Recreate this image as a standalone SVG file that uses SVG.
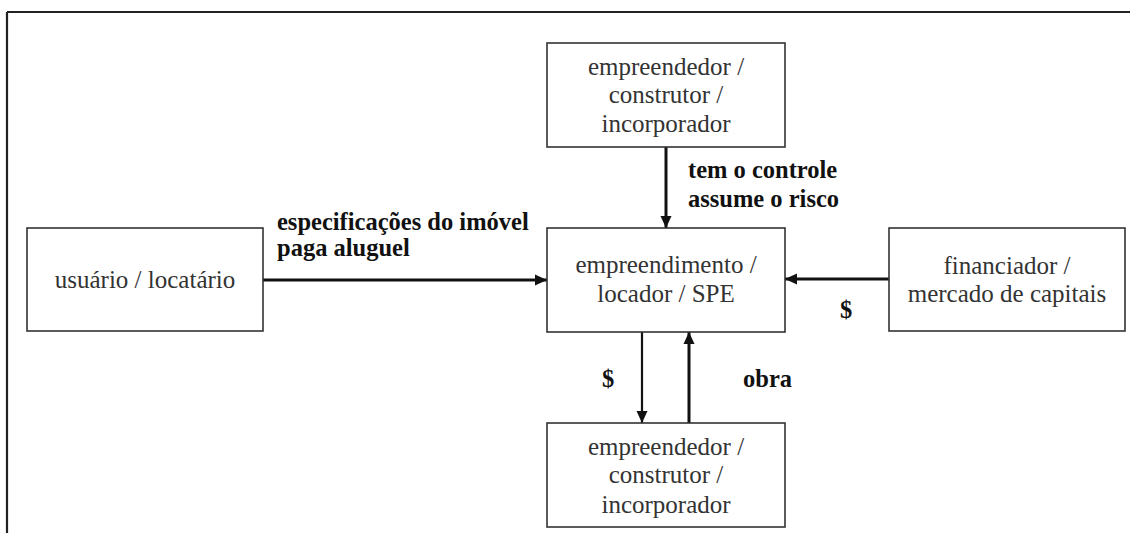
<svg xmlns="http://www.w3.org/2000/svg" width="1130" height="533" viewBox="0 0 1130 533">
<style>
.box{fill:#fff;stroke:#333;stroke-width:1.6}
.nt{font-size:25px;fill:#333;text-anchor:middle}
.lb{font-size:24.5px;font-weight:bold;fill:#111}
.cn{stroke:#111;stroke-width:3;fill:none}
.thin{stroke-width:2.2}
</style>
<defs>
<marker id="ah" viewBox="0 0 12 12" refX="12" refY="6" markerWidth="12" markerHeight="12" markerUnits="userSpaceOnUse" orient="auto">
<path d="M0,0.5 L12,6 L0,11.5 Z" fill="#111"/>
</marker>
</defs>
<rect width="1130" height="533" fill="#fff"/>
<g id="frame">
<path d="M7,12 H1130 M7,12 V533" stroke="#222" stroke-width="2.2" fill="none"/>
</g>
<g id="connectors">
<line class="cn" x1="666" y1="147" x2="666" y2="228" marker-end="url(#ah)"/>
<line class="cn" x1="263" y1="280" x2="547" y2="280" marker-end="url(#ah)"/>
<line class="cn" x1="889" y1="279" x2="785" y2="279" marker-end="url(#ah)"/>
<line class="cn thin" x1="642" y1="332" x2="642" y2="423" marker-end="url(#ah)"/>
<line class="cn" x1="689" y1="423" x2="689" y2="332" marker-end="url(#ah)"/>
</g>
<g id="labels" font-family="Liberation Serif, Times New Roman, serif">
<text class="lb" x="688" y="178">tem o controle</text>
<text class="lb" x="688" y="207">assume o risco</text>
<text class="lb" x="277" y="230">especificações do imóvel</text>
<text class="lb" x="277" y="256">paga aluguel</text>
<text class="lb" x="846" y="318" text-anchor="middle">$</text>
<text class="lb" x="608" y="387" text-anchor="middle">$</text>
<text class="lb" x="743" y="387">obra</text>
</g>
<g id="node-top" font-family="Liberation Serif, Times New Roman, serif">
<rect class="box" x="547" y="43" width="238" height="104"/>
<text class="nt" x="666" y="75">empreendedor /</text>
<text class="nt" x="666" y="103">construtor /</text>
<text class="nt" x="666" y="132">incorporador</text>
</g>
<g id="node-center" font-family="Liberation Serif, Times New Roman, serif">
<rect class="box" x="547" y="228" width="238" height="104"/>
<text class="nt" x="666" y="273">empreendimento /</text>
<text class="nt" x="666" y="302">locador / SPE</text>
</g>
<g id="node-bottom" font-family="Liberation Serif, Times New Roman, serif">
<rect class="box" x="547" y="423" width="238" height="104"/>
<text class="nt" x="666" y="455">empreendedor /</text>
<text class="nt" x="666" y="483">construtor /</text>
<text class="nt" x="666" y="513">incorporador</text>
</g>
<g id="node-left" font-family="Liberation Serif, Times New Roman, serif">
<rect class="box" x="27" y="228" width="236" height="103"/>
<text class="nt" x="145" y="288">usuário / locatário</text>
</g>
<g id="node-right" font-family="Liberation Serif, Times New Roman, serif">
<rect class="box" x="889" y="228" width="236" height="103"/>
<text class="nt" x="1007" y="274">financiador /</text>
<text class="nt" x="1007" y="302">mercado de capitais</text>
</g>
</svg>
